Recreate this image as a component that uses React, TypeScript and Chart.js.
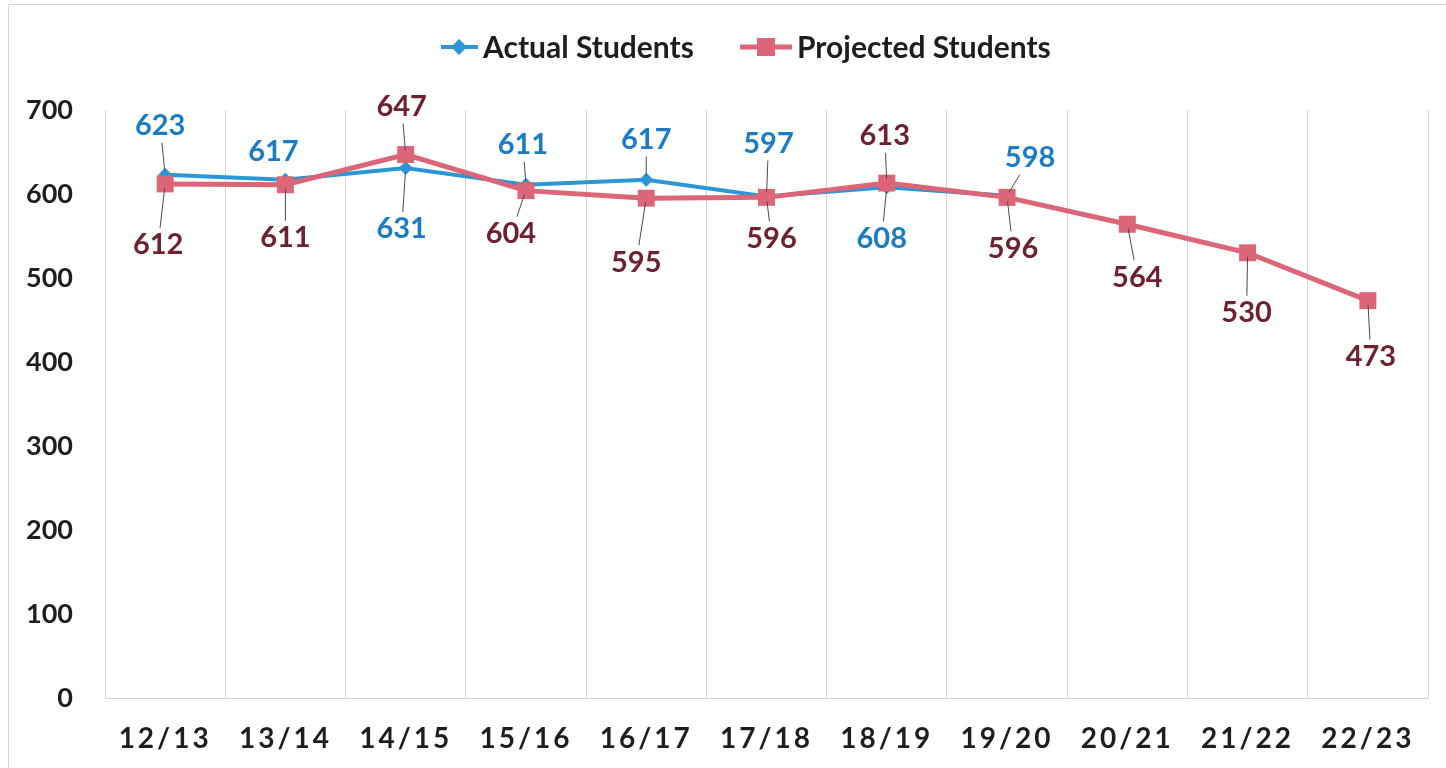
import React, { useEffect, useRef } from "react";
import { Chart, registerables } from "chart.js";

Chart.register(...registerables);

const categories = ["12/13", "13/14", "14/15", "15/16", "16/17", "17/18", "18/19", "19/20", "20/21", "21/22", "22/23"];
const actualStudents = [623, 617, 631, 611, 617, 597, 608, 598];
const projectedStudents = [612, 611, 647, 604, 595, 596, 613, 596, 564, 530, 473];
const yTicks = [0, 100, 200, 300, 400, 500, 600, 700];

// label offsets (dx, dy) from each point, px
const actualLabelOffsets = [[-5, -49], [-12, -28], [-4, 61], [-3, -40], [0, -40], [2, -53], [-5, 51], [23, -38]];
const projectedLabelOffsets = [[-7, 61], [0, 53], [-4, -48], [-15, 43], [-10, 64], [5, 41], [-2, -47], [6, 51], [10, 53], [-1, 60], [3, 56]];

const BLUE = "#2b97d5";
const PINK = "#dc6577";
const BLUE_TEXT = "#1b7cc5";
const RED_TEXT = "#6e2231";
const FONT = "Lato";

const labelsPlugin = {
  id: "dataLabelsLeaders",
  afterLayout(chart: any) {
    const xs = chart.scales.x;
    if (xs && !xs._spaced) {
      const orig = xs.drawLabels.bind(xs);
      xs.drawLabels = (ca: any) => {
        const c = chart.ctx;
        c.save();
        c.letterSpacing = "3px";
        orig(ca);
        c.restore();
      };
      xs._spaced = true;
    }
  },
  afterDatasetsDraw(chart: any) {
    const ctx = chart.ctx;
    const sets = [
      { idx: 0, offsets: actualLabelOffsets, color: BLUE_TEXT },
      { idx: 1, offsets: projectedLabelOffsets, color: RED_TEXT },
    ];
    ctx.save();
    ctx.font = `bold 29px ${FONT}`;
    ctx.textAlign = "center";
    ctx.textBaseline = "middle";
    for (const s of sets) {
      const meta = chart.getDatasetMeta(s.idx);
      const data = chart.data.datasets[s.idx].data;
      meta.data.forEach((pt: any, i: number) => {
        const off = s.offsets[i];
        if (!off) return;
        const px = pt.x, py = pt.y;
        const lx = px + off[0], ly = py + off[1];
        const txt = String(data[i]);
        const w = ctx.measureText(txt).width;
        const dist = Math.hypot(off[0], off[1]);
        if (dist > 34) {
          const hw = w / 2 + 3, hh = 17;
          const dx = px - lx, dy = py - ly;
          const t = Math.min(hw / Math.abs(dx || 1e-6), hh / Math.abs(dy || 1e-6));
          const sx = lx + dx * t, sy = ly + dy * t;
          const ex = px - (dx / dist) * 4, ey = py - (dy / dist) * 4;
          ctx.beginPath();
          ctx.strokeStyle = "#4a4a4a";
          ctx.lineWidth = 1;
          ctx.moveTo(sx, sy);
          ctx.lineTo(ex, ey);
          ctx.stroke();
        }
        ctx.fillStyle = s.color;
        ctx.fillText(txt, lx, ly);
      });
    }
    ctx.restore();
  },
};

const legendPlugin = {
  id: "customLegend",
  afterDraw(chart: any) {
    const ctx = chart.ctx;
    ctx.save();
    // outer border
    ctx.strokeStyle = "#d6d6d6";
    ctx.lineWidth = 1;
    ctx.strokeRect(8.5, 4.5, 1460, 800);
    const y = 47;
    ctx.font = `bold 30px ${FONT}`;
    ctx.textBaseline = "middle";
    ctx.textAlign = "left";
    // actual
    ctx.strokeStyle = BLUE;
    ctx.lineWidth = 4;
    ctx.beginPath();
    ctx.moveTo(441, y);
    ctx.lineTo(478, y);
    ctx.stroke();
    ctx.fillStyle = BLUE;
    ctx.beginPath();
    ctx.moveTo(459, y - 8);
    ctx.lineTo(467, y);
    ctx.lineTo(459, y + 8);
    ctx.lineTo(451, y);
    ctx.closePath();
    ctx.fill();
    ctx.fillStyle = "#1e1e1e";
    ctx.fillText("Actual Students", 483, y + 1);
    // projected
    ctx.strokeStyle = PINK;
    ctx.lineWidth = 5;
    ctx.beginPath();
    ctx.moveTo(740, y);
    ctx.lineTo(792, y);
    ctx.stroke();
    ctx.fillStyle = PINK;
    ctx.fillRect(757, y - 9, 18, 18);
    ctx.fillStyle = "#1e1e1e";
    ctx.fillText("Projected Students", 797, y + 1);
    ctx.restore();
  },
};

export default function App() {
  const ref = useRef<HTMLCanvasElement>(null);
  useEffect(() => {
    document.body.style.margin = "0";
    const chart = new Chart(ref.current as HTMLCanvasElement, {
      type: "line",
      data: {
        labels: categories,
        datasets: [
          {
            label: "Actual Students",
            data: actualStudents,
            borderColor: BLUE,
            backgroundColor: BLUE,
            borderWidth: 4,
            pointStyle: "rectRot",
            pointRadius: 7,
            pointBorderWidth: 0,
            tension: 0,
            order: 1,
          },
          {
            label: "Projected Students",
            data: projectedStudents,
            borderColor: PINK,
            backgroundColor: PINK,
            borderWidth: 5,
            pointStyle: "rect",
            pointRadius: 12,
            pointBorderWidth: 0,
            tension: 0,
            order: 0,
          },
        ],
      },
      options: {
        animation: false,
        responsive: false,
        layout: { padding: { top: 110, right: 18, left: 0, bottom: 0 } },
        plugins: { legend: { display: false }, tooltip: { enabled: false } },
        scales: {
          x: {
            offset: true,
            grid: { offset: true, drawTicks: false, color: "#d4d4d4", lineWidth: 1 },
            border: { display: true, color: "#d4d4d4", dash: [] },
            ticks: {
              font: { family: FONT, size: 28, weight: "bold" },
              color: "#1e1e1e",
              padding: 24,
              maxRotation: 0,
              autoSkip: false,
            },
            afterFit(scale: any) {
              scale.height = 70;
            },
          },
          y: {
            min: 0,
            max: 700,
            afterBuildTicks(scale: any) {
              scale.ticks = yTicks.map((v) => ({ value: v }));
            },
            grid: { display: false },
            border: { display: false },
            ticks: {
              font: { family: FONT, size: 27, weight: "bold" },
              color: "#1e1e1e",
              padding: 24,
            },
            afterFit(scale: any) {
              scale.width = 105;
            },
          },
        },
      },
      plugins: [labelsPlugin, legendPlugin],
    });
    return () => chart.destroy();
  }, []);
  return (
    <div style={{ width: 1446, height: 768, background: "#fff" }}>
      <canvas ref={ref} width={1446} height={768} />
    </div>
  );
}
